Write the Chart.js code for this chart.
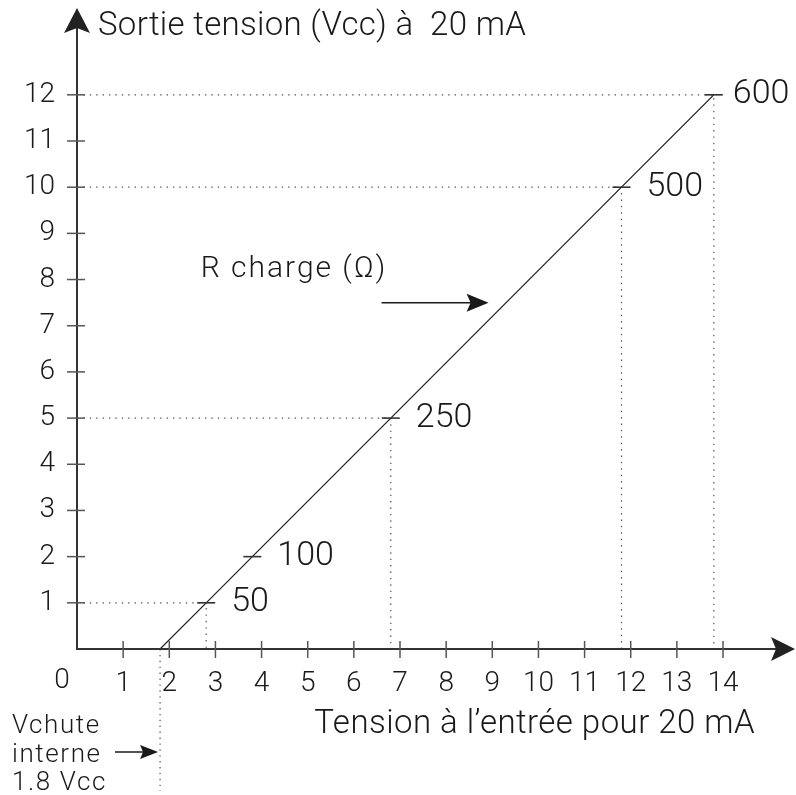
<!DOCTYPE html>
<html><head><meta charset="utf-8">
<script src="https://cdn.jsdelivr.net/npm/chart.js@4/dist/chart.umd.min.js"></script>
<style>html,body{margin:0;padding:0;background:#fff;} #wrap{width:796px;height:795px;}</style>
</head><body><div id="wrap"><canvas id="c" width="796" height="795"></canvas></div>
<script>
// ---- data ----
const loadLabels = ['50', '100', '250', '500', '600'];
const inputVoltage = [2.8, 3.8, 6.8, 11.8, 13.8];
const outputVoltage = [1, 2, 5, 10, 12];
const guideShown = [true, false, true, true, true];
const dropVoltage = 1.8;
const xTickValues = [1, 2, 3, 4, 5, 6, 7, 8, 9, 10, 11, 12, 13, 14];
const yTickValues = [1, 2, 3, 4, 5, 6, 7, 8, 9, 10, 11, 12];
const xMax = 15.56;
const yMax = 13.88;
const titleY = 'Sortie tension (Vcc) à  20 mA';
const titleX = 'Tension à l’entrée pour 20 mA';
const dropNote = ['Vchute', 'interne', '1.8 Vcc'];
const curveNote = 'R charge (Ω)';
const curveArrow = {x1: 6.6, x2: 8.92, y: 7.5};
const curveNotePos = {x: 2.68, y: 8.06};

// ---- styles ----
const FONT = 'Roboto, "Liberation Sans", sans-serif';
const W = '300 ';
const INK = '#1a1a1a';

const curveData = [{x: dropVoltage, y: 0}].concat(inputVoltage.map((v, i) => ({x: v, y: outputVoltage[i]})));
const datasets = [{
  data: curveData,
  borderColor: INK,
  borderWidth: 1.2,
  pointStyle: 'line',
  pointRadius: curveData.map((p, i) => i === 0 ? 0 : 9),
  pointBorderWidth: 1.6,
  pointBorderColor: '#333',
  pointBackgroundColor: '#333',
  tension: 0
}];
inputVoltage.forEach((v, i) => {
  if (!guideShown[i]) return;
  datasets.push({
    data: [{x: 0, y: outputVoltage[i]}, {x: v, y: outputVoltage[i]}, {x: v, y: 0}],
    borderColor: '#555',
    borderWidth: 1.2,
    borderDash: [1.4, 5],
    pointRadius: 0,
    tension: 0
  });
});

function arrowHead(ctx, tx, ty, dx, dy, len, half, notch) {
  const px = -dy, py = dx;
  ctx.beginPath();
  ctx.moveTo(tx, ty);
  ctx.lineTo(tx - dx * len + px * half, ty - dy * len + py * half);
  ctx.lineTo(tx - dx * (len - notch), ty - dy * (len - notch));
  ctx.lineTo(tx - dx * len - px * half, ty - dy * len - py * half);
  ctx.closePath();
  ctx.fill();
}

function noScalePadding(s) {
  s.paddingTop = 0; s.paddingBottom = 0; s.paddingLeft = 0; s.paddingRight = 0;
}

const decor = {
  id: 'decor',
  beforeDatasetsDraw(chart) {
    const ctx = chart.ctx, xs = chart.scales.x, ys = chart.scales.y;
    const y0 = ys.getPixelForValue(0);
    ctx.save();
    const xd = xs.getPixelForValue(dropVoltage);
    ctx.strokeStyle = '#555'; ctx.lineWidth = 1.2; ctx.setLineDash([1.4, 4.5]);
    ctx.beginPath(); ctx.moveTo(xd, y0); ctx.lineTo(xd, chart.height - 4); ctx.stroke();
    ctx.restore();
  },
  afterDatasetsDraw(chart) {
    const ctx = chart.ctx, xs = chart.scales.x, ys = chart.scales.y, ca = chart.chartArea;
    const x0 = xs.getPixelForValue(0), y0 = ys.getPixelForValue(0);
    ctx.save();
    ctx.strokeStyle = '#333'; ctx.fillStyle = '#222'; ctx.lineWidth = 2;
    // axes with arrowheads
    ctx.beginPath(); ctx.moveTo(x0 - 1, y0); ctx.lineTo(ca.right - 18, y0); ctx.stroke();
    ctx.beginPath(); ctx.moveTo(x0, y0 + 1); ctx.lineTo(x0, ca.top + 18); ctx.stroke();
    arrowHead(ctx, ca.right, y0, 1, 0, 24, 12, 5);
    arrowHead(ctx, x0, ca.top, 0, -1, 25, 13, 5);
    // tick marks crossing the axes
    ctx.lineWidth = 1.5; ctx.strokeStyle = '#555';
    xTickValues.forEach(v => {
      const p = xs.getPixelForValue(v);
      ctx.beginPath(); ctx.moveTo(p, y0 - 8); ctx.lineTo(p, y0 + 9); ctx.stroke();
    });
    yTickValues.forEach(v => {
      const p = ys.getPixelForValue(v);
      ctx.beginPath(); ctx.moveTo(x0 - 10, p); ctx.lineTo(x0 + 8, p); ctx.stroke();
    });
    // texts
    ctx.fillStyle = INK;
    ctx.textBaseline = 'middle';
    ctx.textAlign = 'center';
    ctx.font = W + '28px ' + FONT;
    ctx.fillText('0', x0 - 15, 681);
    ctx.textBaseline = 'alphabetic';
    ctx.textAlign = 'left';
    ctx.font = W + '33px ' + FONT;
    ctx.letterSpacing = '0.3px';
    ctx.fillText(titleY, x0 + 21, 35);
    ctx.textAlign = 'right';
    ctx.letterSpacing = '0.45px';
    ctx.fillText(titleX, 755, 733);
    ctx.letterSpacing = '0px';
    // load labels
    ctx.textAlign = 'left';
    ctx.textBaseline = 'middle';
    ctx.font = W + '34px ' + FONT;
    const meta = chart.getDatasetMeta(0);
    loadLabels.forEach((t, i) => {
      const el = meta.data[i + 1];
      ctx.fillText(t, el.x + (i === loadLabels.length - 1 ? 19 : 25), el.y);
    });
    // R charge note + arrow
    ctx.textBaseline = 'alphabetic';
    ctx.font = W + '30px ' + FONT;
    ctx.letterSpacing = '2px';
    ctx.fillText(curveNote, xs.getPixelForValue(curveNotePos.x), ys.getPixelForValue(curveNotePos.y));
    const ay = ys.getPixelForValue(curveArrow.y);
    const ax1 = xs.getPixelForValue(curveArrow.x1), ax2 = xs.getPixelForValue(curveArrow.x2);
    ctx.strokeStyle = INK; ctx.lineWidth = 1.5;
    ctx.beginPath(); ctx.moveTo(ax1, ay); ctx.lineTo(ax2 - 15, ay); ctx.stroke();
    arrowHead(ctx, ax2, ay, 1, 0, 22, 9, 4);
    // drop voltage note + arrow
    ctx.font = W + '26px ' + FONT;
    ctx.letterSpacing = '1.6px';
    dropNote.forEach((t, i) => ctx.fillText(t, 12, 733 + i * 28.5));
    ctx.letterSpacing = '0px';
    const dTip = xs.getPixelForValue(dropVoltage) - 2;
    ctx.beginPath(); ctx.moveTo(115, 752); ctx.lineTo(dTip - 10, 752); ctx.stroke();
    arrowHead(ctx, dTip, 752, 1, 0, 18, 7, 3);
    ctx.restore();
  }
};

new Chart(document.getElementById('c'), {
  type: 'line',
  data: {datasets},
  options: {
    responsive: false,
    animation: false,
    events: [],
    layout: {autoPadding: false, padding: {top: 8, right: 1, left: 0, bottom: 0}},
    plugins: {legend: {display: false}, tooltip: {enabled: false}},
    scales: {
      x: {
        type: 'linear', min: 0, max: xMax,
        grid: {display: false, drawTicks: false}, border: {display: false},
        afterBuildTicks: s => { s.ticks = xTickValues.map(v => ({value: v})); },
        afterFit: s => { s.height = 146; noScalePadding(s); },
        ticks: {autoSkip: false, maxRotation: 0, color: INK, padding: 18, font: {family: FONT, size: 28, weight: '300'}}
      },
      y: {
        type: 'linear', min: 0, max: yMax,
        grid: {display: false, drawTicks: false}, border: {display: false},
        afterBuildTicks: s => { s.ticks = yTickValues.map(v => ({value: v})); },
        afterFit: s => { s.width = 77; noScalePadding(s); },
        ticks: {autoSkip: false, color: INK, padding: 22, font: {family: FONT, size: 28, weight: '300'}}
      }
    }
  },
  plugins: [decor]
});
</script></body></html>
